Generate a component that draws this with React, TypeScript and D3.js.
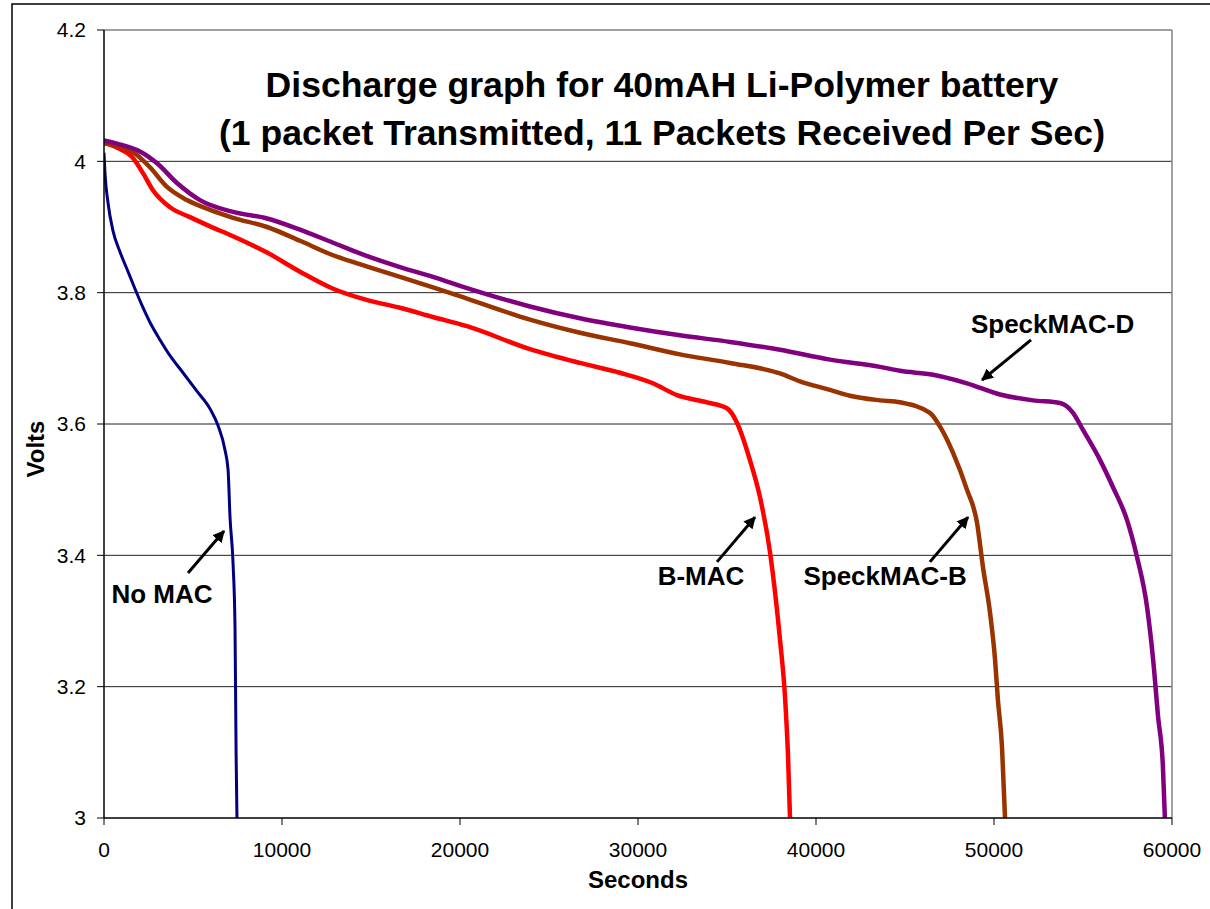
import * as d3 from "d3";

type Pt = [number, number];

// seconds, volts
const noMac: Pt[] = [
  [0, 4.013], [56, 3.982], [225, 3.937], [506, 3.894], [900, 3.862], [1290, 3.836],
  [1740, 3.806], [2130, 3.781], [2580, 3.755], [3150, 3.728], [3710, 3.704],
  [4440, 3.678], [5220, 3.65], [5960, 3.623], [6400, 3.598], [6800, 3.56],
  [6970, 3.53], [7080, 3.458], [7250, 3.388], [7360, 3.291], [7420, 3.1], [7470, 3.0],
];

const bMac: Pt[] = [
  [0, 4.028], [800, 4.02], [1570, 4.007], [2190, 3.982], [2750, 3.956], [3710, 3.93],
  [4830, 3.915], [5960, 3.901], [7250, 3.886], [9160, 3.861], [11010, 3.832], [12870, 3.806],
  [14750, 3.789], [16630, 3.777], [18480, 3.763], [20390, 3.749],
  [23930, 3.714], [26740, 3.693], [28990, 3.678], [30840, 3.662], [32190, 3.644],
  [33880, 3.633], [35000, 3.624], [35560, 3.602], [36290, 3.545], [36850, 3.489],
  [37420, 3.404], [37980, 3.271], [38260, 3.184], [38430, 3.093], [38540, 3.0],
];

const speckB: Pt[] = [
  [0, 4.028], [1000, 4.022], [1630, 4.014], [2580, 3.991], [3540, 3.961], [4660, 3.941],
  [5960, 3.926], [7250, 3.914], [9160, 3.9], [11010, 3.879], [12870, 3.857], [14750, 3.84],
  [16630, 3.824], [18480, 3.808], [20390, 3.791], [23930, 3.759],
  [26740, 3.739], [29550, 3.723], [32360, 3.706], [35170, 3.693], [37980, 3.677],
  [39100, 3.665], [40790, 3.652], [41910, 3.643], [43600, 3.636], [44720, 3.633],
  [46400, 3.617], [46970, 3.596], [47700, 3.556], [48480, 3.5], [49050, 3.449],
  [49380, 3.382], [49780, 3.312], [50060, 3.241], [50220, 3.18], [50450, 3.108], [50620, 3.0],
];

const speckD: Pt[] = [
  [0, 4.032], [1000, 4.025], [2020, 4.015], [2980, 3.997], [4100, 3.967], [5390, 3.941],
  [7250, 3.923], [9160, 3.913], [11010, 3.896], [12870, 3.876], [14750, 3.856],
  [16630, 3.839], [18480, 3.824], [20390, 3.807], [23930, 3.779],
  [26740, 3.761], [29550, 3.747], [32360, 3.735], [35170, 3.725], [37980, 3.713],
  [40790, 3.698], [43600, 3.687], [44720, 3.681], [46580, 3.675], [48480, 3.662],
  [50340, 3.645], [52190, 3.636], [53710, 3.632], [54440, 3.617], [55000, 3.591],
  [55960, 3.545], [56680, 3.504], [57470, 3.454], [58030, 3.398], [58600, 3.321],
  [58940, 3.241], [59220, 3.154], [59490, 3.078], [59600, 3.0],
];

const seriesNames = ["No MAC", "B-MAC", "SpeckMAC-B", "SpeckMAC-D"];
const seriesColors = ["#000080", "#ff0000", "#993300", "#800080"];
const seriesData = [noMac, bMac, speckB, speckD];

const yTicks = [3, 3.2, 3.4, 3.6, 3.8, 4, 4.2];
const xTicks = [0, 10000, 20000, 30000, 40000, 50000, 60000];

// label: [text x, text baseline y], arrow: tail -> head (seconds, volts)
const labelPos: Pt[] = [[3260, 3.3274], [33540, 3.355], [43880, 3.355], [53290, 3.739]];
const arrowTail: Pt[] = [[4719, 3.373], [34440, 3.39], [46400, 3.39], [52080, 3.728]];
const arrowHead: Pt[] = [[6742, 3.437], [36570, 3.458], [48540, 3.458], [49330, 3.667]];

const W = 1210;
const H = 909;
const left = 104, right = 1172, top = 30, bottom = 818;
const font = "'Liberation Sans', Arial, sans-serif";

export default function App() {
  const x = d3.scaleLinear().domain([0, 60000]).range([left, right]);
  const y = d3.scaleLinear().domain([3, 4.2]).range([bottom, top]);
  const line = d3
    .line<Pt>()
    .x((d) => x(d[0]))
    .y((d) => y(d[1]))
    .curve(d3.curveMonotoneX);

  return (
    <svg
      width={W}
      height={H}
      style={{ position: "absolute", left: 0, top: 0, background: "#fff" }}
      fontFamily={font}
    >
      <rect x={12} y={4} width={W} height={H} fill="#fff" stroke="#000" strokeWidth={1.5} />

      {/* grid */}
      {yTicks.slice(1, -1).map((t) => (
        <line key={t} x1={left} x2={right} y1={y(t)} y2={y(t)} stroke="#222" strokeWidth={1} />
      ))}
      <line x1={left} x2={right} y1={top} y2={top} stroke="#808080" strokeWidth={1.5} />
      <line x1={right} x2={right} y1={top} y2={bottom} stroke="#808080" strokeWidth={1.5} />

      {/* title */}
      <text x={662} y={97} textAnchor="middle" fontSize={35.6} fontWeight="bold">
        Discharge graph for 40mAH Li-Polymer battery
      </text>
      <text x={662} y={145} textAnchor="middle" fontSize={35.6} fontWeight="bold">
        (1 packet Transmitted, 11 Packets Received Per Sec)
      </text>

      {/* series */}
      <g clipPath="url(#plot)">
        {seriesData.map((d, i) => (
          <path
            key={seriesNames[i]}
            d={line(d) ?? ""}
            fill="none"
            stroke={seriesColors[i]}
            strokeWidth={i === 0 ? 3 : 4.5}
            strokeLinejoin="round"
          />
        ))}
      </g>
      <defs>
        <clipPath id="plot">
          <rect x={left} y={top - 10} width={right - left} height={bottom - top + 10} />
        </clipPath>
        <marker id="head" viewBox="0 0 10 10" refX={9} refY={5} markerWidth={4} markerHeight={4} orient="auto">
          <path d="M0,0 L10,5 L0,10 z" fill="#000" />
        </marker>
      </defs>

      {/* axes */}
      <line x1={left} x2={left} y1={top} y2={bottom} stroke="#000" strokeWidth={1.5} />
      <line x1={left} x2={right} y1={bottom} y2={bottom} stroke="#000" strokeWidth={1.5} />
      {yTicks.map((t) => (
        <g key={t}>
          <line x1={left - 7} x2={left} y1={y(t)} y2={y(t)} stroke="#000" strokeWidth={1} />
          <text x={left - 18} y={y(t)} dy="0.35em" textAnchor="end" fontSize={21}>
            {d3.format("")(t)}
          </text>
        </g>
      ))}
      {xTicks.map((t) => (
        <g key={t}>
          <line x1={x(t)} x2={x(t)} y1={bottom} y2={bottom + 7} stroke="#000" strokeWidth={1} />
          <text x={x(t)} y={857} textAnchor="middle" fontSize={21}>
            {t}
          </text>
        </g>
      ))}
      <text x={(left + right) / 2} y={888} textAnchor="middle" fontSize={24} fontWeight="bold">
        Seconds
      </text>
      <text
        transform={`translate(44,${449}) rotate(-90)`}
        textAnchor="middle"
        fontSize={24}
        fontWeight="bold"
      >
        Volts
      </text>

      {/* annotations */}
      {seriesNames.map((n, i) => (
        <g key={n}>
          <text x={x(labelPos[i][0])} y={y(labelPos[i][1])} textAnchor="middle" fontSize={26} fontWeight="bold">
            {n}
          </text>
          <line
            x1={x(arrowTail[i][0])}
            y1={y(arrowTail[i][1])}
            x2={x(arrowHead[i][0])}
            y2={y(arrowHead[i][1])}
            stroke="#000"
            strokeWidth={3}
            markerEnd="url(#head)"
          />
        </g>
      ))}
    </svg>
  );
}
